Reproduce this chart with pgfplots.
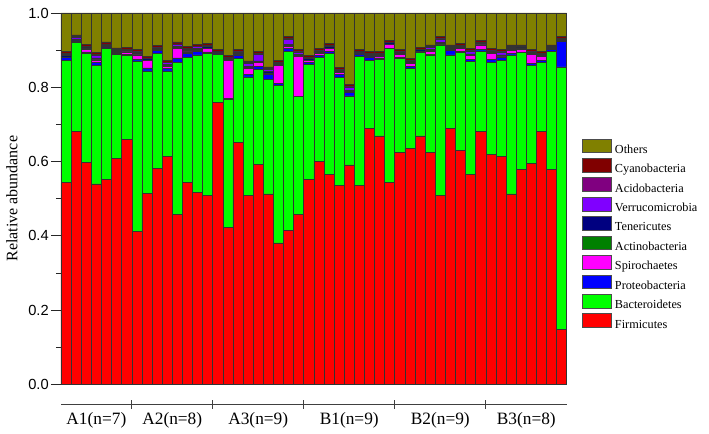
\documentclass[border=0pt]{standalone}
\usepackage{pgfplots}
\pgfplotsset{compat=1.18}
\usepackage{pgfplotstable}
\usepackage{fontspec}
\setmainfont{Liberation Serif}
\newfontfamily\sansf{Liberation Sans}
\definecolor{cFir}{HTML}{FF0000}
\definecolor{cBac}{HTML}{00FF00}
\definecolor{cPro}{HTML}{0000FF}
\definecolor{cSpi}{HTML}{FF00FF}
\definecolor{cAct}{HTML}{008000}
\definecolor{cTen}{HTML}{000080}
\definecolor{cVer}{HTML}{8000FF}
\definecolor{cAci}{HTML}{800080}
\definecolor{cCya}{HTML}{800000}
\definecolor{cOth}{HTML}{808000}
\pgfplotstableread{
x Fir Bac Pro Spi Act Ten Ver Aci Cya Oth
1 .544 .328 .008 0 .002 .003 .004 .002 .005 .104
2 .682 .239 .004 0 .002 .003 .004 .002 .005 .059
3 .598 .293 .004 .006 .002 .003 .002 .002 .005 .085
4 .540 .319 .008 .007 .002 .003 .007 .002 .005 .107
5 .553 .351 .002 .002 .002 .003 .002 .002 .005 .078
6 .608 .280 .004 0 .002 .003 .002 .002 .005 .094
7 .659 .227 .002 .007 .002 .003 .001 .002 .005 .092
8 .412 .459 .005 .011 .002 .003 .003 .002 .005 .098
9 .515 .329 .008 .020 .002 .003 0 .002 .005 .116
10 .582 .309 .009 0 .002 .003 .001 .002 .005 .087
11 .615 .229 .007 .005 .002 .003 .005 .002 .005 .127
12 .457 .410 .012 .026 .002 .003 .005 .002 .005 .078
13 .543 .338 .011 .003 .002 .003 .002 .002 .005 .091
14 .517 .370 .009 .004 .002 .003 .004 .002 .005 .084
15 .508 .383 .004 .009 .002 .003 .002 .002 .005 .082
16 .759 .129 .002 0 .002 .003 0 .002 .005 .098
17 .423 .344 .003 .103 .002 .003 0 .002 .005 .115
18 .651 .227 .009 .002 .002 .003 .001 .002 .005 .098
19 .508 .320 .007 .016 .002 .003 .008 .002 .005 .129
20 .593 .255 .009 .009 .002 .003 .018 .002 .005 .104
21 .513 .308 .013 .003 .002 .003 .006 .002 .005 .145
22 .381 .425 .004 .049 .002 .003 .002 .002 .005 .127
23 .414 .482 .009 .006 .002 .003 .013 .002 .005 .064
24 .457 .318 .001 .107 .002 .003 .007 .002 .005 .098
25 .553 .309 .004 .006 .002 .003 .001 .002 .005 .115
26 .601 .279 .006 .006 .002 .003 .001 .002 .005 .095
27 .565 .326 .006 .007 .002 .003 .002 .002 .005 .082
28 .535 .292 .007 .007 .002 .003 .001 .002 .005 .146
29 .591 .186 .010 0 .002 .003 .009 .002 .005 .192
30 .535 .349 .006 0 .002 .003 0 .002 .005 .098
31 .690 .183 .009 .001 .002 .003 .001 .002 .005 .104
32 .669 .206 .004 .004 .002 .003 .001 .002 .005 .104
33 .545 .360 0 .010 .002 .003 0 .002 .005 .073
34 .624 .253 .003 .009 .002 .003 .001 .002 .005 .098
35 .636 .215 .006 .008 .002 .003 .001 .002 .005 .122
36 .669 .224 .001 .002 .002 .003 0 .002 .005 .092
37 .624 .263 .002 .008 .002 .003 .005 .002 .005 .086
38 .510 .404 .002 0 .002 .003 .009 .002 .005 .063
39 .690 .197 .013 0 .002 .003 .002 .002 .005 .086
40 .630 .263 .003 .009 .002 .003 .001 .002 .005 .082
41 .566 .304 .006 .009 .002 .003 .008 .002 .005 .095
42 .682 .216 .003 .013 .002 .003 .001 .002 .005 .073
43 .620 .246 .010 .015 .002 .003 .002 .002 .005 .095
44 .615 .258 .007 .002 .002 .003 .008 .002 .005 .098
45 .513 .374 .004 .009 .002 .003 .002 .002 .005 .086
46 .579 .314 .001 .007 .002 .003 .001 .002 .005 .086
47 .596 .264 .004 .025 .002 .003 .001 .002 .005 .098
48 .682 .186 .004 .011 .002 .003 .001 .002 .005 .104
49 .578 .318 .006 0 .002 .003 0 .002 .005 .086
50 .148 .707 .069 0 .002 .003 0 .002 .005 .064
}\data
\begin{document}
\begin{tikzpicture}
\begin{axis}[
  name=main,
  at={(0,0)}, anchor=south west,
  scale only axis, width=379.3pt, height=278.625pt,
  xmin=0.5, xmax=50.5, ymin=0, ymax=1,
  ybar stacked, bar width=1,
  axis x line*=bottom, axis y line*=left,
  axis line style={black!85, line width=0.7pt},
  xtick=\empty,
  ytick={0,0.2,0.4,0.6,0.8,1.0},
  minor y tick num=1,
  tick align=outside,
  major tick length=7.5pt, minor tick length=3.75pt,
  tick style={black!85, line width=0.7pt},
  /pgf/number format/assume math mode=true,
  yticklabel style={font=\sansf\fontsize{11}{11}\selectfont, inner sep=0pt, xshift=-1.5pt,
    /pgf/number format/.cd, fixed, fixed zerofill, precision=1},
  ylabel={Relative abundance},
  every axis y label/.style={at={(axis description cs:-0.0969,0.5)}, rotate=90, anchor=center,
    font=\fontsize{12}{14}\selectfont},
  every axis plot/.append style={draw=black!80, line width=0.45pt},
  reverse legend,
  legend image code/.code={\draw[#1, draw=black!70, line width=0.4pt] (0pt,-2pt) rectangle (22pt,8.3pt);},
  legend style={at={(rel axis cs:1.0297,0.662)}, anchor=north west, draw=none, fill=none,
    inner sep=0pt, outer sep=0pt, row sep=0pt, column sep=2.5pt,
    font=\fontsize{9.2}{11}\selectfont, cells={anchor=west},
    nodes={inner sep=0pt, text height=8.6pt, text depth=3.55pt}},
  clip=false,
]
\addplot[fill=cFir] table[x=x, y=Fir] {\data}; \addlegendentry{Firmicutes}
\addplot[fill=cBac] table[x=x, y=Bac] {\data}; \addlegendentry{Bacteroidetes}
\addplot[fill=cPro] table[x=x, y=Pro] {\data}; \addlegendentry{Proteobacteria}
\addplot[fill=cSpi] table[x=x, y=Spi] {\data}; \addlegendentry{Spirochaetes}
\addplot[fill=cAct] table[x=x, y=Act] {\data}; \addlegendentry{Actinobacteria}
\addplot[fill=cTen] table[x=x, y=Ten] {\data}; \addlegendentry{Tenericutes}
\addplot[fill=cVer] table[x=x, y=Ver] {\data}; \addlegendentry{Verrucomicrobia}
\addplot[fill=cAci] table[x=x, y=Aci] {\data}; \addlegendentry{Acidobacteria}
\addplot[fill=cCya] table[x=x, y=Cya] {\data}; \addlegendentry{Cyanobacteria}
\addplot[fill=cOth] table[x=x, y=Oth] {\data}; \addlegendentry{Others}
\end{axis}
\begin{axis}[
  at={(0pt,-14.85pt)}, anchor=south west,
  scale only axis, width=379.3pt, height=1pt,
  xmin=0.5, xmax=50.5, ymin=0, ymax=1,
  axis x line=bottom, axis y line=none,
  axis line style={-, black!75, line width=0.8pt},
  xtick={4,11.5,20,29,38,46.5},
  xticklabels={A1(n=7),A2(n=8),A3(n=9),B1(n=9),B2(n=9),B3(n=8)},
  major tick length=0pt,
  extra x ticks={7.5,15.5,24.5,33.5,42.5},
  extra x tick labels={},
  extra x tick style={major tick length=6.5pt, tick align=center, tick style={black!75, line width=0.8pt}},
  xticklabel style={font=\fontsize{13}{15}\selectfont, anchor=north, inner sep=0pt, yshift=-5.6pt},
]
\addplot[draw=none] coordinates {(1,0.5)};
\end{axis}
\pgfresetboundingbox
\useasboundingbox (-45.75pt,-37.125pt) rectangle (486pt,288.375pt);
\end{tikzpicture}
\end{document}
